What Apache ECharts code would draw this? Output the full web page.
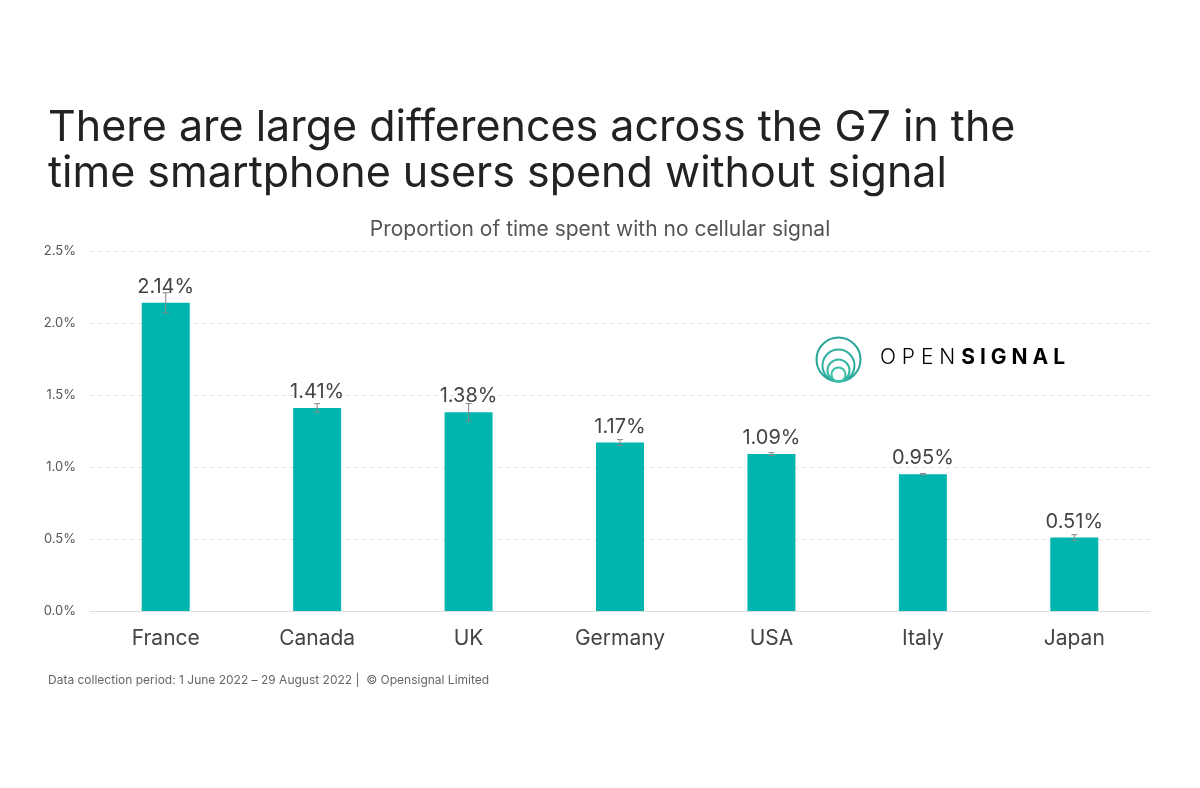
<!DOCTYPE html>
<html><head><meta charset="utf-8">
<script src="https://cdn.jsdelivr.net/npm/echarts@6/dist/echarts.min.js"></script>
<style>html,body{margin:0;padding:0;background:#fff}#c{width:1200px;height:788px}</style>
</head><body><div id="c"></div>
<script>
const categories = ['France','Canada','UK','Germany','USA','Italy','Japan'];
const values = [2.14, 1.41, 1.38, 1.17, 1.09, 0.95, 0.51];
const errors = [0.07, 0.03, 0.06, 0.02, 0.01, 0.005, 0.02];
const yTicks = [0, 0.5, 1.0, 1.5, 2.0, 2.5];

const chart = echarts.init(document.getElementById('c'));
const font = 'Inter, "Noto Sans", sans-serif';
chart.setOption({
  backgroundColor: '#fff',
  animation: false,
  title: [
    {text: 'There are large differences across the G7 in the\ntime smartphone users spend without signal', left: 43, top: 100,
     textStyle: {fontFamily: font, fontSize: 43, fontWeight: 400, color: '#222', lineHeight: 46}},
    {text: 'Proportion of time spent with no cellular signal', left: 'center', top: 214,
     textStyle: {fontFamily: font, fontSize: 21, fontWeight: 400, color: '#555', letterSpacing: 0.8}},
    {text: 'Data collection period: 1 June 2022 – 29 August 2022 |  © Opensignal Limited', left: 43, top: 669,
     textStyle: {fontFamily: font, fontSize: 12, fontWeight: 400, color: '#666'}}
  ],
  grid: {left: 90, right: 50, top: 251, bottom: 177},
  xAxis: {type: 'category', data: categories,
    axisLine: {lineStyle: {color: '#ddd'}}, axisTick: {show: false},
    axisLabel: {fontFamily: font, fontSize: 21, color: '#444', margin: 17}},
  yAxis: {type: 'value', min: 0, max: yTicks[yTicks.length - 1], interval: 0.5,
    axisLine: {show: false}, axisTick: {show: false},
    axisLabel: {fontFamily: font, fontSize: 13, color: '#555', margin: 14, formatter: v => v.toFixed(1) + '%'},
    splitLine: {lineStyle: {color: '#e2e2e2', type: [4, 4]}}},
  series: [
    {type: 'bar', data: values, barWidth: 48, itemStyle: {color: '#00b5ad'},
     label: {show: true, position: 'top', distance: 6, fontFamily: font, fontSize: 20, color: '#444',
       formatter: p => p.value.toFixed(2) + '%'}},
    {type: 'custom', data: values.map((v, i) => [i, v - errors[i], v + errors[i]]), z: 10,
     renderItem: (params, api) => {
       const lo = api.coord([api.value(0), api.value(1)]);
       const hi = api.coord([api.value(0), api.value(2)]);
       const w = 3;
       const s = {stroke: '#888', lineWidth: 1};
       return {type: 'group', children: [
         {type: 'line', shape: {x1: hi[0], y1: hi[1], x2: lo[0], y2: lo[1]}, style: s},
         {type: 'line', shape: {x1: hi[0]-w, y1: hi[1], x2: hi[0]+w, y2: hi[1]}, style: s},
         {type: 'line', shape: {x1: lo[0]-w, y1: lo[1], x2: lo[0]+w, y2: lo[1]}, style: s}
       ]};
     }}
  ],
  graphic: [
    {type: 'group', left: 814, top: 335, children: [
      {type: 'circle', shape: {cx: 23, cy: 23, r: 22}, style: {fill: 'none', stroke: '#2aa59a', lineWidth: 2}},
      {type: 'circle', shape: {cx: 23, cy: 29, r: 16}, style: {fill: 'none', stroke: '#2fae9e', lineWidth: 2}},
      {type: 'circle', shape: {cx: 23, cy: 34, r: 11}, style: {fill: 'none', stroke: '#35b8a2', lineWidth: 2}},
      {type: 'circle', shape: {cx: 23, cy: 38, r: 7}, style: {fill: 'none', stroke: '#3cc0a5', lineWidth: 2}}
    ]},
    {type: 'text', left: 880, top: 347, style: {
      text: '{a|O P E N }{b|S I G N A L}',
      rich: {a: {fontFamily: font, fontSize: 21, fontWeight: 300, color: '#222', letterSpacing: 2.4},
             b: {fontFamily: font, fontSize: 21, fontWeight: 700, color: '#222', letterSpacing: 2.4}}}}
  ]
});
</script></body></html>
